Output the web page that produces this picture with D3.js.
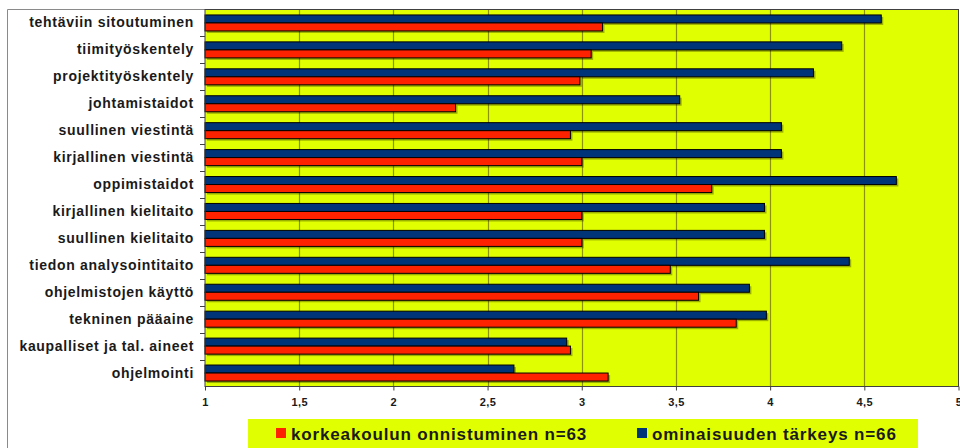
<!DOCTYPE html>
<html>
<head>
<meta charset="utf-8">
<script src="https://cdn.jsdelivr.net/npm/d3@7"></script>
<style>
  html, body { margin: 0; padding: 0; background: #ffffff; }
  svg { display: block; }
</style>
</head>
<body>
<svg id="chart" width="960" height="448"></svg>
<script>
// Skill categories, top to bottom
const categories = [
  "tehtäviin sitoutuminen",
  "tiimityöskentely",
  "projektityöskentely",
  "johtamistaidot",
  "suullinen viestintä",
  "kirjallinen viestintä",
  "oppimistaidot",
  "kirjallinen kielitaito",
  "suullinen kielitaito",
  "tiedon analysointitaito",
  "ohjelmistojen käyttö",
  "tekninen pääaine",
  "kaupalliset ja tal. aineet",
  "ohjelmointi"
];

// Importance of the skill (n=66)
const importance = [4.59, 4.38, 4.23, 3.52, 4.06, 4.06, 4.67, 3.97, 3.97, 4.42, 3.89, 3.98, 2.92, 2.64];
// How well the university succeeded (n=63)
const success = [3.11, 3.05, 2.99, 2.33, 2.94, 3.00, 3.69, 3.00, 3.00, 3.47, 3.62, 3.82, 2.94, 3.14];

const seriesNames = ["ominaisuuden tärkeys n=66", "korkeakoulun onnistuminen n=63"];
const legendOrder = ["korkeakoulun onnistuminen n=63", "ominaisuuden tärkeys n=66"];
const xTicks = [1, 1.5, 2, 2.5, 3, 3.5, 4, 4.5, 5];
const xTickLabels = ["1", "1,5", "2", "2,5", "3", "3,5", "4", "4,5", "5"];

const colors = {
  "ominaisuuden tärkeys n=66": "#003479",
  "korkeakoulun onnistuminen n=63": "#ff2200"
};
const values = {
  "ominaisuuden tärkeys n=66": importance,
  "korkeakoulun onnistuminen n=63": success
};

const svg = d3.select("#chart");
const plot = { left: 205, right: 958.5, top: 9.5, bottom: 386.5 };
const font = "'Liberation Sans', Arial, sans-serif";

// Outer frame (left and top edges)
svg.append("path")
  .attr("d", `M7.5,448 V9.5 H${plot.left}`)
  .attr("fill", "none")
  .attr("stroke", "#8a8a8a")
  .attr("stroke-width", 1);

const x = d3.scaleLinear().domain([1, 5]).range([plot.left, plot.right]);
const y = d3.scaleBand().domain(categories).range([plot.top, plot.bottom]).padding(0);
const ySub = d3.scaleBand().domain(seriesNames).range([0, y.bandwidth()])
  .paddingInner(0).paddingOuter(0.68);

// Plot background
svg.append("rect")
  .attr("x", plot.left).attr("y", plot.top)
  .attr("width", plot.right - plot.left).attr("height", plot.bottom - plot.top)
  .attr("fill", "#e0ff00");

// Vertical gridlines
svg.append("g")
  .selectAll("line")
  .data(xTicks.slice(1, -1))
  .join("line")
  .attr("x1", d => Math.round(x(d)) + 0.5).attr("x2", d => Math.round(x(d)) + 0.5)
  .attr("y1", plot.top).attr("y2", plot.bottom)
  .attr("stroke", "#8d9200")
  .attr("stroke-width", 1.2);

// Bars with drop shadow
const rows = [];
categories.forEach((c, i) => {
  seriesNames.forEach(s => rows.push({ cat: c, series: s, value: values[s][i] }));
});

const barG = svg.append("g");
barG.selectAll("rect.shadow")
  .data(rows)
  .join("rect")
  .attr("class", "shadow")
  .attr("x", x(1) + 2)
  .attr("y", d => y(d.cat) + ySub(d.series) + 2)
  .attr("width", d => x(d.value) - x(1))
  .attr("height", ySub.bandwidth())
  .attr("fill", "#000")
  .attr("opacity", 0.3);

barG.selectAll("rect.bar")
  .data(rows)
  .join("rect")
  .attr("class", "bar")
  .attr("x", x(1))
  .attr("y", d => y(d.cat) + ySub(d.series))
  .attr("width", d => x(d.value) - x(1))
  .attr("height", ySub.bandwidth())
  .attr("fill", d => colors[d.series])
  .attr("stroke", "#000")
  .attr("stroke-width", 1);

// Plot border
svg.append("rect")
  .attr("x", plot.left).attr("y", plot.top)
  .attr("width", plot.right - plot.left).attr("height", plot.bottom - plot.top)
  .attr("fill", "none")
  .attr("stroke", "#404040")
  .attr("stroke-width", 1);

// Category axis: ticks at band boundaries and labels
const yAxisG = svg.append("g");
yAxisG.selectAll("line")
  .data(categories.slice(1))
  .join("line")
  .attr("x1", plot.left - 5).attr("x2", plot.left)
  .attr("y1", d => Math.round(y(d)) + 0.5).attr("y2", d => Math.round(y(d)) + 0.5)
  .attr("stroke", "#404040");

yAxisG.selectAll("text")
  .data(categories)
  .join("text")
  .attr("x", 194)
  .attr("y", d => y(d) + y.bandwidth() / 2 + 4.5)
  .attr("text-anchor", "end")
  .attr("font-family", font)
  .attr("font-weight", "bold")
  .attr("font-size", 14)
  .attr("letter-spacing", 0.7)
  .attr("fill", "#1a1a1a")
  .text(d => d);

// Value axis
const xAxis = d3.axisBottom(x)
  .tickValues(xTicks)
  .tickSize(4)
  .tickPadding(8)
  .tickFormat((d, i) => xTickLabels[i]);

const xAxisG = svg.append("g")
  .attr("transform", `translate(0,${plot.bottom})`)
  .call(xAxis);
xAxisG.select(".domain").remove();
xAxisG.selectAll(".tick line").attr("stroke", "#404040");
xAxisG.selectAll(".tick text")
  .attr("font-family", font)
  .attr("font-weight", "bold")
  .attr("font-size", 11)
  .attr("letter-spacing", 0.4)
  .attr("fill", "#1a1a1a");

// Legend
const legend = svg.append("g");
legend.append("rect")
  .attr("x", 248).attr("y", 419)
  .attr("width", 670).attr("height", 32)
  .attr("fill", "#e0ff00");

const legendX = [276, 637];
legendOrder.forEach((s, i) => {
  legend.append("rect")
    .attr("x", legendX[i]).attr("y", 428)
    .attr("width", 10).attr("height", 10)
    .attr("fill", colors[s]);
  legend.append("text")
    .attr("x", legendX[i] + 15).attr("y", 439.5)
    .attr("font-family", font)
    .attr("font-weight", "bold")
    .attr("font-size", 17)
    .attr("letter-spacing", 0.85)
    .attr("fill", "#1a1a1a")
    .text(s);
});
</script>
</body>
</html>
